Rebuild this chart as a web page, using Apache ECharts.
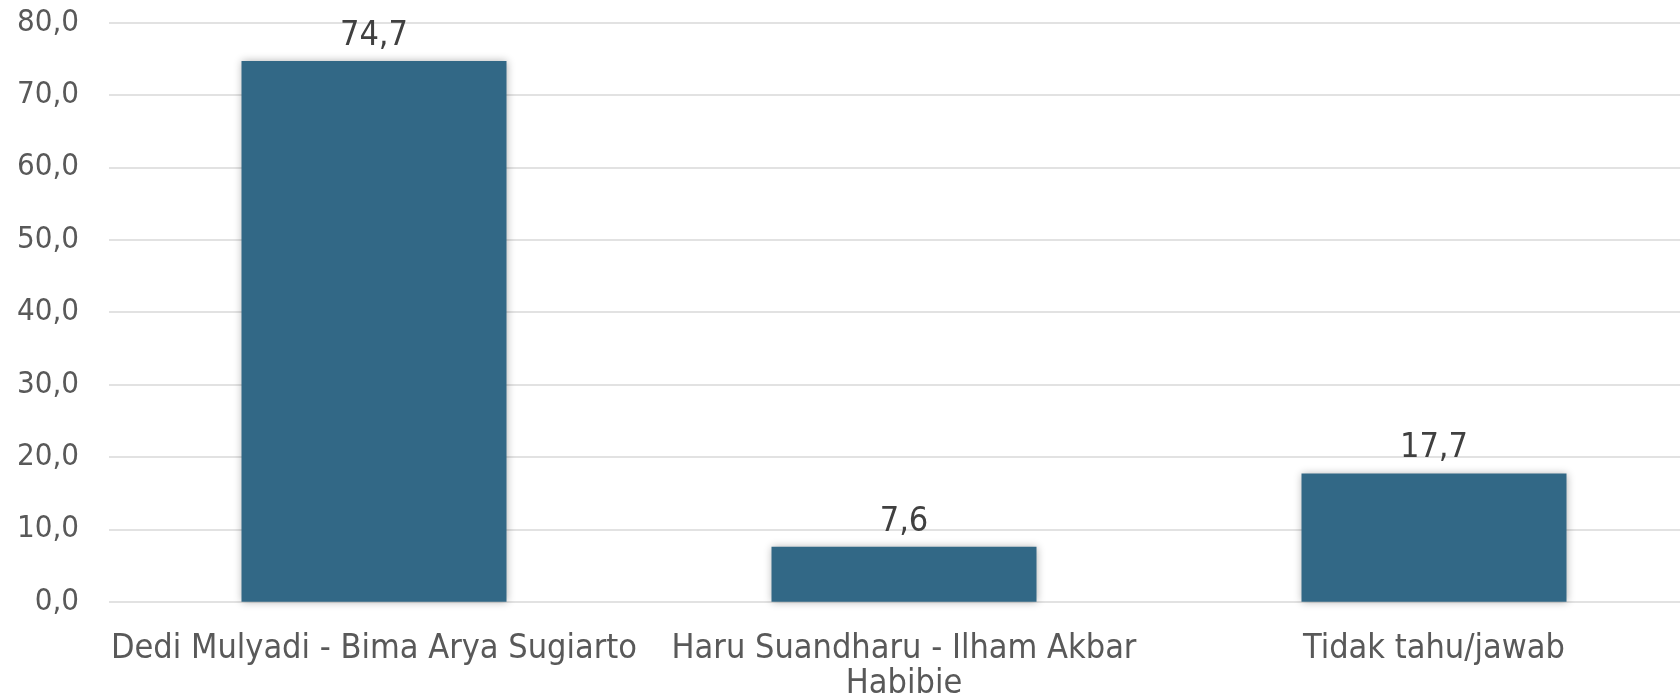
<!DOCTYPE html>
<html>
<head>
<meta charset="utf-8">
<script src="https://cdn.jsdelivr.net/npm/echarts@6/dist/echarts.min.js"></script>
<style>
  html, body { margin: 0; padding: 0; background: #fff; }
  #chart { width: 1680px; height: 696px; }
</style>
</head>
<body>
<div id="chart"></div>
<script>
// data
var categories = ['Dedi Mulyadi - Bima Arya Sugiarto', 'Haru Suandharu - Ilham Akbar\nHabibie', 'Tidak tahu/jawab'];
var values = [74.7, 7.6, 17.7];
var yTicks = [0, 80, 10]; // min, max, step

var fmt = function (v) { return v.toFixed(1).replace('.', ','); };
var fontFam = '"DejaVu Sans Condensed", "DejaVu Sans", sans-serif';

var chart = echarts.init(document.getElementById('chart'));
chart.setOption({
  backgroundColor: '#fff',
  animation: false,
  grid: {
    left: 109,
    top: 22.7,
    width: 1590,
    bottom: 94.3,
    containLabel: false,
    outerBoundsMode: 'none'
  },
  xAxis: {
    type: 'category',
    data: categories,
    axisLine: { show: false },
    axisTick: { show: false },
    axisLabel: {
      interval: 0,
      color: '#595959',
      fontFamily: fontFam,
      fontSize: 34,
      lineHeight: 35,
      margin: 30
    }
  },
  yAxis: {
    type: 'value',
    min: yTicks[0],
    max: yTicks[1],
    interval: yTicks[2],
    axisLine: { show: false },
    axisTick: { show: false },
    splitLine: { lineStyle: { color: '#d9d9d9', width: 1.5 } },
    axisLabel: {
      color: '#595959',
      fontFamily: fontFam,
      fontSize: 31,
      margin: 30,
      formatter: fmt
    }
  },
  series: [{
    type: 'bar',
    data: values,
    barWidth: '50%',
    itemStyle: {
      color: '#326886',
      shadowBlur: 8,
      shadowColor: 'rgba(0,0,0,0.3)'
    },
    label: {
      show: true,
      position: 'top',
      distance: 8,
      color: '#404040',
      fontFamily: fontFam,
      fontSize: 34,
      formatter: function (p) { return fmt(p.value); }
    }
  }]
});
</script>
</body>
</html>
